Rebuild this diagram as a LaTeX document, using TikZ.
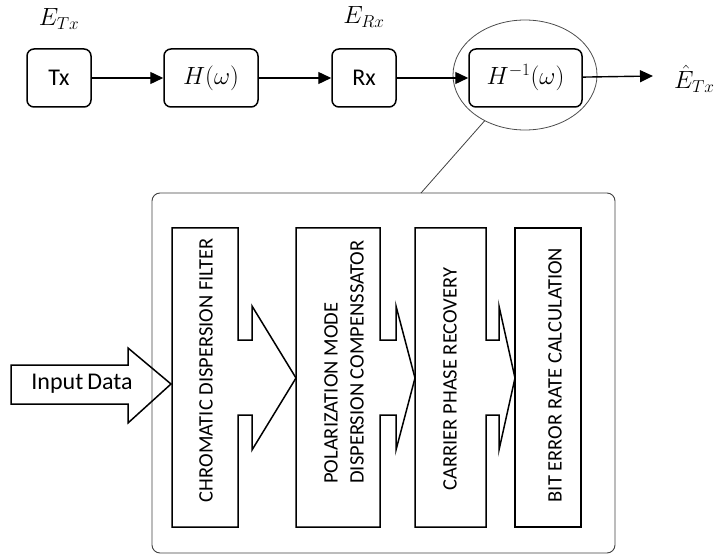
\documentclass[tikz,border=0pt]{standalone}
\usepackage{fontspec}
\setmainfont{Carlito}
\usetikzlibrary{arrows.meta,shapes.geometric}
\tikzset{
  topbox/.style={draw, line width=1.5pt, rounded corners=7pt, inner sep=0pt},
  flow/.style={draw, line width=1.4pt, -{Triangle[length=13pt,width=12pt]}},
  blockline/.style={draw, line width=1.5pt, line join=miter},
  vtext/.style={rotate=90, font=\fontsize{20.5}{26}\selectfont, align=left, inner sep=0pt},
  mathlbl/.style={font=\fontsize{25}{28}\selectfont, inner sep=0pt},
}
\begin{document}
\begin{tikzpicture}[x=1pt,y=-1pt]
\useasboundingbox (0,0) rectangle (715,556);
% top row
\node[topbox, minimum width=64pt, minimum height=58pt, font=\fontsize{24}{26}\selectfont] (tx) at (59,78) {Tx};
\node[topbox, minimum width=94pt, minimum height=58pt, mathlbl] (h) at (211,78) {$H(\omega)$};
\node[topbox, minimum width=64pt, minimum height=58pt, font=\fontsize{24}{26}\selectfont] (rx) at (364,78) {Rx};
\node[topbox, minimum width=113pt, minimum height=58pt, mathlbl] (hinv) at (525.5,78) {$H^{-1}(\omega)$};
\node[draw=black!70, line width=0.8pt, ellipse, minimum width=144pt, minimum height=110pt] (ell) at (525,75) {};
\coordinate (out) at (653,76);
\draw[flow] (tx) -- (h);
\draw[flow] (h) -- (rx);
\draw[flow] (rx) -- (hinv);
\draw[flow] (hinv) -- (out);
\node[mathlbl] (etx) at (59,19) {$E_{Tx}$};
\node[mathlbl] (erx) at (364,17) {$E_{Rx}$};
\node[mathlbl, anchor=west] (ehat) at (674,79) {$\hat{E}_{Tx}$};
% big box
\node[draw=black!75, line width=0.9pt, rounded corners=8pt, minimum width=463pt, minimum height=360pt, inner sep=0pt] (big) at (383.5,373) {};
\coordinate (bigtop) at (421,193);
\draw[black!75, line width=0.8pt] (ell) -- (bigtop);
% blocks
\draw[blockline] (172,228) -- (238,228) -- (238,340) -- (252,340) -- (252,306) -- (296,378) -- (252,450) -- (252,415) -- (238,415) -- (238,527) -- (172,527) -- cycle;
\draw[blockline] (296,228) -- (380,228) -- (380,340) -- (396,340) -- (396,306) -- (415,378) -- (396,450) -- (396,415) -- (380,415) -- (380,527) -- (296,527) -- cycle;
\draw[blockline] (415,228) -- (486,228) -- (486,340) -- (499,340) -- (499,306) -- (515,378) -- (499,450) -- (499,415) -- (486,415) -- (486,527) -- (415,527) -- cycle;
\draw[blockline] (515,228) -- (581,228) -- (581,527) -- (515,527) -- cycle;
% input arrow
\draw[blockline] (11,365) -- (128,365) -- (128,348) -- (171,384) -- (128,423) -- (128,404) -- (11,404) -- cycle;
\node[font=\fontsize{24}{28}\selectfont, inner sep=0pt] (input) at (82,384) {Input\,Data};
% vertical texts
\node[vtext] (cdf) at (206,370) {CHROMATIC DISPERSION FILTER};
\node[vtext] (pmd) at (344,362) {POLARIZATION MODE\\DISPERSION COMPENSSATOR};
\node[vtext] (cpr) at (450,379) {CARRIER PHASE RECOVERY};
\node[vtext] (ber) at (555,375) {BIT ERROR RATE CALCULATION};
\end{tikzpicture}
\end{document}
